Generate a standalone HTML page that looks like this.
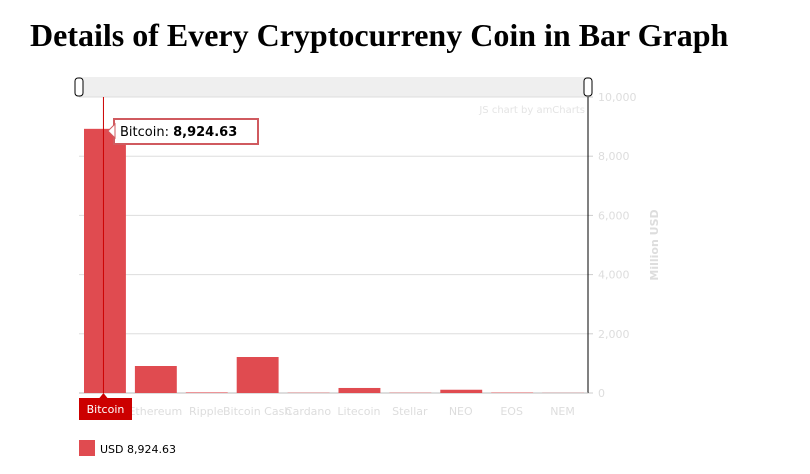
<!DOCTYPE html>
<html><head><meta charset="utf-8"><style>
body{margin:0;background:#fff;width:810px;height:474px;overflow:hidden;position:relative}
h1{position:absolute;left:30px;top:17px;margin:0;font:bold 32px "Liberation Serif",serif;color:#000}
svg{position:absolute;left:0;top:0}
text{font-family:"DejaVu Sans","Liberation Sans",sans-serif}
</style></head><body>
<h1>Details of Every Cryptocurreny Coin in Bar Graph</h1>
<svg id="c" width="810" height="474"></svg>
<script>
const categories=["Bitcoin","Ethereum","Ripple","Bitcoin Cash","Cardano","Litecoin","Stellar","NEO","EOS","NEM"];
const usdValues=[8924.63,912,20,1216,10,170,10,110,15,5];
const yTicks=[0,2000,4000,6000,8000,10000];
const tickLabels=["0","2,000","4,000","6,000","8,000","10,000"];
const NS="http://www.w3.org/2000/svg",svg=document.getElementById('c');
const X0=79,X1=588,Y0=393,Y1=97,YMAX=10000;
const bw=(X1-X0)/categories.length;
const y=v=>Y0-(v/YMAX)*(Y0-Y1);
const x=i=>X0+i*bw;
function el(t,a,p){const e=document.createElementNS(NS,t);for(const k in a)e.setAttribute(k,a[k]);(p||svg).appendChild(e);return e;}
let sb=el('rect',{x:79,y:77,width:512,height:20,fill:'#efefef'});


[[77,81],[586,594]].forEach((h,i)=>{let g=el('rect',{x:h[0]-2,y:78,width:8,height:18,rx:3,fill:'#fff',stroke:'#000'});

});
yTicks.forEach((v,i)=>{
 let l=el('line',{x1:X0,x2:X1,y1:y(v),y2:y(v),stroke:'#ddd'});
 
 
 el('line',{x1:X1,x2:X1+5,y1:y(v),y2:y(v),stroke:'#ccc'});
 let t=el('text',{x:X1+10,y:y(v)+4,'font-size':11,fill:'#ddd'});t.textContent=tickLabels[i];
 
 
});
let ax=el('line',{x1:X1,x2:X1,y1:Y1,y2:Y0,stroke:'#000'});


let yt=el('text',{x:0,y:0,'font-size':11,'font-weight':'bold',fill:'#ddd','text-anchor':'middle',transform:`translate(658,245) rotate(-90)`});yt.textContent='Million USD';


let cr=el('text',{x:585,y:113,'font-size':10,fill:'#e4e4e4','text-anchor':'end'});cr.textContent='JS chart by amCharts';


el('line',{x1:X0,x2:X1,y1:Y0,y2:Y0,stroke:'#bbb'});
categories.forEach((c,i)=>{
 let b=el('rect',{x:x(i)+5,y:y(usdValues[i]),width:bw-9,height:Y0-y(usdValues[i]),fill:'#e04b50'});
 
 
 let t=el('text',{x:x(i)+bw/2,y:Y0+22,'font-size':11,fill:'#ddd','text-anchor':'middle'});t.textContent=c;
 
 
});
const cx=x(0)+bw/2-1;
el('line',{x1:cx,x2:cx,y1:Y1,y2:Y0,stroke:'#c00'});
let cb=el('rect',{x:79,y:398,width:53,height:22,fill:'#cc0000'});


el('polygon',{points:`${cx-4},398 ${cx},393 ${cx+4},398`,fill:'#cc0000'});
let ct=el('text',{x:105.5,y:413,'font-size':11,fill:'#fff','text-anchor':'middle'});ct.textContent=categories[0];
let tb=el('rect',{x:114,y:119,width:144,height:25,fill:'#fff',stroke:'#d05a5f','stroke-width':2});


el('polygon',{points:'115,124 108,131 115,138',fill:'#fff',stroke:'#d05a5f'});
let tt=el('text',{x:120,y:136,'font-size':13,fill:'#000'});tt.innerHTML=categories[0]+': <tspan font-weight="bold">8,924.63</tspan>';
let lm=el('rect',{x:79,y:440,width:16,height:16,fill:'#e04b50'});


let lt=el('text',{x:100,y:453,'font-size':11,fill:'#000'});lt.textContent='USD  8,924.63';


</script>
</body></html>
